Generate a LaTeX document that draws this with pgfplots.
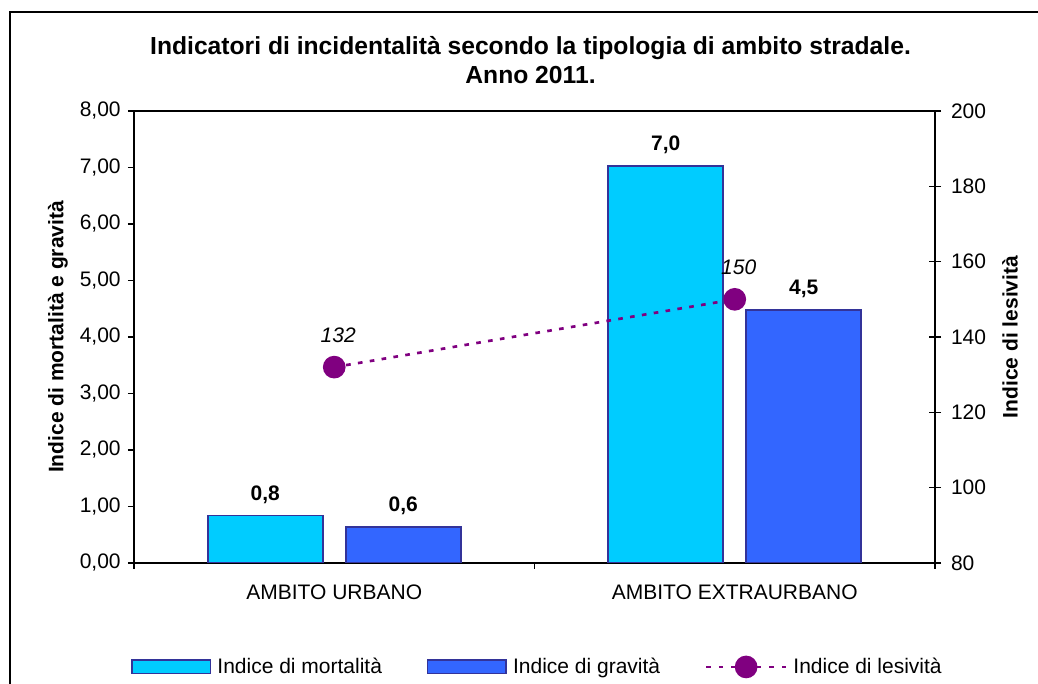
\documentclass[border=0pt]{standalone}
\usepackage{fontspec}
\setmainfont{Liberation Sans}
\usepackage{pgfplots}
\pgfplotsset{compat=1.18}
\definecolor{barcyan}{RGB}{0,204,255}
\definecolor{barblue}{RGB}{51,102,255}
\definecolor{barline}{RGB}{51,51,153}
\definecolor{lespurple}{RGB}{128,0,128}
\newcommand{\fs}{\fontsize{15.75pt}{18pt}\selectfont}
\pgfplotsset{
  mybarlegend/.style={legend image code/.code={\draw[##1] (0pt,-5pt) rectangle (59pt,5pt);}},
  mylinelegend/.style={legend image code/.code={\draw[##1, mark repeat=2, mark phase=2] plot coordinates {(0pt,0pt) (30pt,0pt) (60pt,0pt)};}},
}
\begin{document}
\begin{tikzpicture}
\path[use as bounding box] (0,0) rectangle (778.5pt,513pt);
\draw[line width=1.1pt] (7.5pt,-20pt) -- (7.5pt,504pt) -- (800pt,504pt);
\begin{axis}[
  at={(100.5pt,90.75pt)}, anchor=south west,
  width=600.75pt, height=339pt, scale only axis,
  xmin=-0.5, xmax=1.5, ymin=0, ymax=8,
  /pgf/number format/assume math mode=true,
  axis line style={line width=0.8pt},
  ytick={0,1,...,8}, ytick pos=left, xtick pos=bottom,
  tick align=outside, major tick length=4.5pt, minor tick length=4.5pt,
  tick style={line width=0.8pt, black},
  xtick={0,1}, xticklabels={AMBITO URBANO, AMBITO EXTRAURBANO},
  major x tick style={draw=none},
  minor xtick={-0.5,0.5,1.5},
  xticklabel style={font=\fs, yshift=-8pt},
  yticklabel style={font=\fs, xshift=-2pt, /pgf/number format/.cd, fixed, fixed zerofill, precision=2, use comma, /tikz/.cd},
  ylabel={Indice di mortalità e gravità},
  ylabel style={font=\fs\bfseries, at={(axis description cs:-0.0949,0.5)}, anchor=center, rotate=0},
  title={Indicatori di incidentalità secondo la tipologia di ambito stradale.\\Anno 2011.},
  title style={font=\fontsize{18.5pt}{21.75pt}\selectfont\bfseries, align=center, at={(axis description cs:0.495,1)}, anchor=center, yshift=32.4pt},
  nodes near coords,
  nodes near coords style={font=\fs\bfseries, text=black, anchor=base, yshift=11.6pt, /pgf/number format/.cd, fixed, fixed zerofill, precision=1, use comma, /tikz/.cd},
  legend columns=3,
  legend cell align=left,
  legend style={at={(axis description cs:0.504,-0.23)}, anchor=center, draw=none, fill=none, font=\fs,
    /tikz/every odd column/.append style={column sep=2.5pt},
    /tikz/every even column/.append style={column sep=31.5pt}},
]
\addplot[ybar, bar width=86.25pt, bar shift=-51.75pt, fill=barcyan, draw=barline, line width=1.3pt, mybarlegend,
  nodes near coords style={xshift=-51.75pt}]
  coordinates {(0,0.84) (1,7.03)};
\addlegendentry{Indice di mortalità}
\addplot[ybar, bar width=86.25pt, bar shift=51.75pt, fill=barblue, draw=barline, line width=1.3pt, mybarlegend,
  nodes near coords style={xshift=51.75pt}]
  coordinates {(0,0.64) (1,4.48)};
\addlegendentry{Indice di gravità}
\addlegendimage{lespurple, line width=2pt, dash pattern=on 3.5pt off 6pt, mark=*, mark size=7.5pt, mark options={solid}, mylinelegend}
\addlegendentry{Indice di lesività}
\end{axis}
\begin{axis}[
  at={(100.5pt,90.75pt)}, anchor=south west,
  width=600.75pt, height=339pt, scale only axis,
  xmin=-0.5, xmax=1.5, ymin=80, ymax=200,
  /pgf/number format/assume math mode=true,
  axis x line=none, axis y line*=right,
  y axis line style={-, line width=0.8pt},
  ytick={80,100,...,200},
  tick align=center, major tick length=9pt,
  tick style={line width=0.8pt, black},
  yticklabel style={font=\fs, xshift=4pt},
  ylabel={Indice di lesività},
  ylabel style={font=\fs\bfseries, at={(axis description cs:1.0936,0.5)}, anchor=center, rotate=0},
]
\addplot[lespurple, line width=2pt, dash pattern=on 3.5pt off 5.5pt, mark=*, mark size=7.5pt, mark options={solid},
  nodes near coords, nodes near coords style={font=\fs\itshape, text=black, anchor=base, yshift=18.5pt, xshift=3pt}]
  coordinates {(0,132) (1,150)};
\end{axis}
\end{tikzpicture}
\end{document}
